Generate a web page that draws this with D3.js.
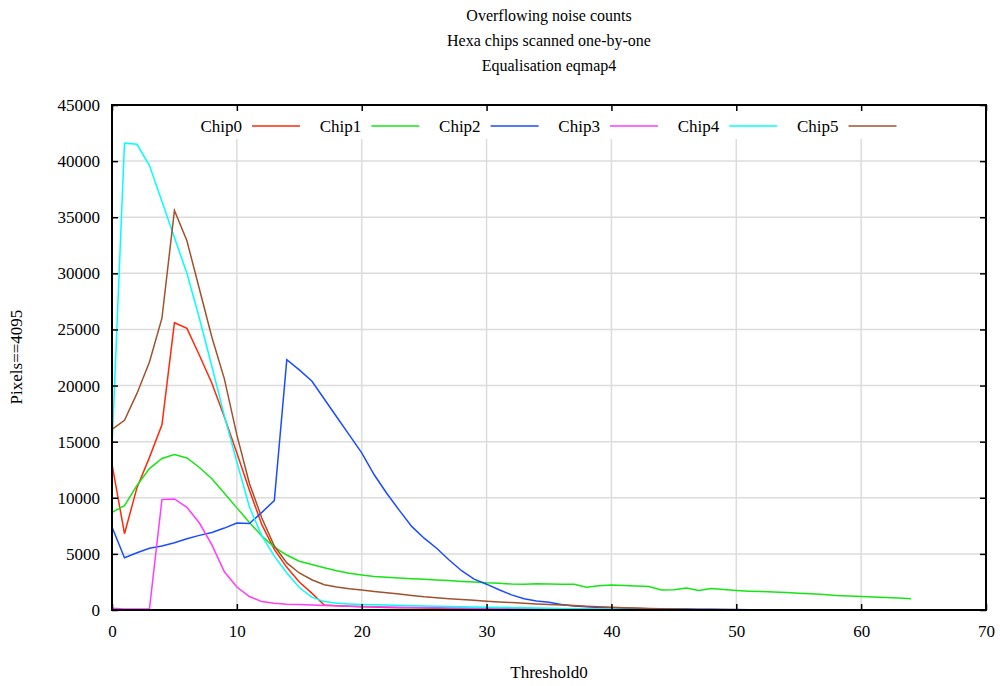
<!DOCTYPE html>
<html>
<head>
<meta charset="utf-8">
<script src="https://cdn.jsdelivr.net/npm/d3@7"></script>
<style>
  body { margin: 0; background: #fff; }
  svg text { font-family: "Liberation Serif", "Times New Roman", "DejaVu Serif", serif !important; fill: #000; }
  .grid line { stroke: #dcdcdc; stroke-width: 1.5; }
  .series { fill: none; stroke-width: 1.5; }
</style>
</head>
<body>
<div id="chart"></div>
<script>
// chart data
var titleLines = ["Overflowing noise counts", "Hexa chips scanned one-by-one", "Equalisation eqmap4"];
var chipNames = ["Chip0", "Chip1", "Chip2", "Chip3", "Chip4", "Chip5"];
var chipColors = ["#ff2a0a", "#14e614", "#1a4dff", "#ff3cff", "#00ffff", "#a0522d"];
var xTicks = [0, 10, 20, 30, 40, 50, 60, 70];
var yTicks = [0, 5000, 10000, 15000, 20000, 25000, 30000, 35000, 40000, 45000];

var thresholds = [0, 1, 2, 3, 4, 5, 6, 7, 8, 9, 10, 11, 12, 13, 14, 15, 16, 17, 18, 19,
    20, 21, 22, 23, 24, 25, 26, 27, 28, 29, 30, 31, 32, 33, 34, 35, 36, 37, 38, 39,
    40, 41, 42, 43, 44, 45, 46, 47, 48, 49, 50, 51, 52, 53, 54, 55, 56, 57, 58, 59,
    60, 61, 62, 63, 64];

var chip0 = [13000, 6800, 10900, 13600, 16500, 25600, 25100, 22700, 20200, 17200,
    14000, 10700, 7600, 5400, 3800, 2500, 1500, 450, 380, 330,
    290, 260, 230, 210, 190, 170, 150, 130, 115, 100,
    90, 80, 70, 60, 50, 45, 40, 35, 30, 25,
    20, 18, 15, 12, 10, 8, 7, 6, 5, 4,
    3, 2, 2, 1, 1, 1, 1, 1, 0, 0, 0, 0, 0, 0, 0];

var chip1 = [8700, 9300, 11100, 12600, 13500, 13850, 13550, 12700, 11700, 10400,
    9100, 7800, 6600, 5600, 4900, 4350, 4050, 3770, 3500, 3280,
    3120, 2980, 2920, 2860, 2790, 2740, 2680, 2620, 2550, 2490,
    2420, 2380, 2320, 2300, 2330, 2320, 2290, 2300, 2020, 2170,
    2230, 2180, 2140, 2100, 1780, 1800, 1950, 1740, 1920, 1820,
    1740, 1680, 1640, 1600, 1570, 1500, 1440, 1380, 1300, 1250,
    1200, 1150, 1120, 1070, 1000];

var chip2 = [7400, 4650, 5100, 5500, 5700, 6000, 6350, 6650, 6900, 7300,
    7750, 7700, 8700, 9750, 22300, 21400, 20400, 18800, 17200, 15600,
    14000, 12050, 10400, 8900, 7450, 6400, 5500, 4450, 3500, 2750,
    2300, 1800, 1350, 1000, 800, 700, 500, 350, 280, 230,
    190, 160, 140, 120, 100, 90, 80, 70, 60, 50,
    40, 30, 25, 20, 15, 12, 10, 8, 6, 5,
    4, 3, 2, 2, 1];

var chip3 = [150, 80, 80, 80, 9850, 9900, 9150, 7750, 5800, 3400,
    2050, 1200, 750, 600, 520, 480, 440, 400, 370, 340,
    310, 290, 270, 250, 230, 215, 200, 185, 170, 155,
    140, 125, 110, 100, 90, 80, 70, 60, 50, 45,
    40, 35, 30, 25, 20, 15, 12, 10, 8, 6,
    5, 4, 3, 3, 2, 2, 2, 1, 1, 1, 1, 0, 0, 0, 0];

var chip4 = [14500, 41600, 41500, 39600, 36400, 33200, 30000, 26000, 21700, 17300,
    13200, 9200, 6600, 4800, 3300, 2000, 1150, 750, 600, 540,
    500, 470, 440, 410, 380, 350, 330, 310, 290, 270,
    250, 230, 210, 190, 170, 150, 135, 120, 105, 90,
    80, 70, 60, 50, 45, 40, 32, 26, 20, 15,
    10, 8, 6, 5, 4, 3, 2, 2, 1, 1, 1, 0, 0, 0, 0];

var chip5 = [16100, 16900, 19300, 22100, 26000, 35600, 32900, 28600, 24300, 20600,
    15600, 11300, 8200, 5700, 4200, 3300, 2700, 2250, 2050, 1900,
    1780, 1650, 1530, 1420, 1300, 1180, 1100, 1010, 930, 860,
    790, 720, 660, 600, 540, 490, 440, 390, 340, 290,
    240, 200, 170, 140, 110, 90, 70, 55, 45, 35,
    25, 20, 15, 12, 10, 8, 6, 5, 4, 3, 2, 2, 1, 1, 0];

var chips = [chip0, chip1, chip2, chip3, chip4, chip5];

// create margins
var totalWidth = 1000, totalHeight = 686;
var margin = {top: 105, right: 14, bottom: 76, left: 112},
    width = totalWidth - margin.left - margin.right,
    height = totalHeight - margin.top - margin.bottom;

var x = d3.scaleLinear().domain([0, 70]).range([0, width]);
var y = d3.scaleLinear().domain([0, 45000]).range([height, 0]);

var serif = '"Liberation Serif", "Times New Roman", "DejaVu Serif", serif';

var root = d3.select("#chart").append("svg")
    .attr("width", totalWidth)
    .attr("height", totalHeight)
    .attr("font-family", serif);

// titles
root.selectAll("text.title")
    .data(titleLines).enter()
    .append("text")
    .attr("class", "title")
    .attr("x", margin.left + width / 2)
    .attr("y", (d, i) => 21 + 25 * i)
    .attr("text-anchor", "middle")
    .style("font-size", "16px")
    .text(d => d);

var svg = root.append("g")
    .attr("transform", `translate(${margin.left}, ${margin.top})`);

// grid lines
var grid = svg.append("g").attr("class", "grid");
grid.selectAll("line.v")
    .data(xTicks.slice(1, -1)).enter()
    .append("line")
    .attr("x1", d => x(d)).attr("x2", d => x(d))
    .attr("y1", 0).attr("y2", height);
grid.selectAll("line.h")
    .data(yTicks.slice(1, -1)).enter()
    .append("line")
    .attr("x1", 0).attr("x2", width)
    .attr("y1", d => y(d)).attr("y2", d => y(d));

// legend background hides the grid under the key
svg.append("rect")
    .attr("x", 80).attr("y", 1)
    .attr("width", 720).attr("height", 33)
    .attr("fill", "#fff");

// series lines
var line = d3.line()
    .x((d, i) => x(thresholds[i]))
    .y(d => y(d));

svg.selectAll("path.series")
    .data(chips).enter()
    .append("path")
    .attr("class", "series")
    .attr("stroke", (d, i) => chipColors[i])
    .attr("d", d => line(d));

// axes, ticks pointing inward on all four sides
var tickLen = 6;
var plain = d3.format("d");
svg.append("g")
    .attr("transform", `translate(0, ${height})`)
    .call(d3.axisBottom(x).tickValues(xTicks).tickFormat(plain).tickSizeInner(-tickLen).tickSizeOuter(0).tickPadding(15))
    .call(g => g.select(".domain").remove());
svg.append("g")
    .call(d3.axisTop(x).tickValues(xTicks).tickSizeInner(-tickLen).tickSizeOuter(0).tickFormat(""))
    .call(g => g.select(".domain").remove());
svg.append("g")
    .call(d3.axisLeft(y).tickValues(yTicks).tickFormat(plain).tickSizeInner(-tickLen).tickSizeOuter(0).tickPadding(12))
    .call(g => g.select(".domain").remove());
svg.append("g")
    .attr("transform", `translate(${width}, 0)`)
    .call(d3.axisRight(y).tickValues(yTicks).tickSizeInner(-tickLen).tickSizeOuter(0).tickFormat(""))
    .call(g => g.select(".domain").remove());

svg.selectAll("g").attr("font-family", serif);
svg.selectAll(".tick line").attr("stroke", "#000").attr("stroke-width", 1.5);
svg.selectAll(".tick text")
    .style("font-size", "17px")
    .attr("fill", "#000");

// frame
svg.append("rect")
    .attr("width", width).attr("height", height)
    .attr("fill", "none")
    .attr("stroke", "#000")
    .attr("stroke-width", 2);

// legend
var legend = svg.selectAll("g.legend")
    .data(chipNames).enter()
    .append("g")
    .attr("class", "legend")
    .attr("transform", (d, i) => `translate(${130 + 119.3 * i}, 21)`);

legend.append("text")
    .attr("x", 0).attr("y", 0)
    .attr("text-anchor", "end")
    .attr("dy", "0.33em")
    .style("font-size", "17px")
    .text(d => d);

legend.append("line")
    .attr("x1", 10).attr("x2", 58)
    .attr("y1", 0).attr("y2", 0)
    .attr("stroke", (d, i) => chipColors[i])
    .attr("stroke-width", 1.5);

// axis labels
root.append("text")
    .attr("x", margin.left + width / 2)
    .attr("y", 678)
    .attr("text-anchor", "middle")
    .style("font-size", "17px")
    .text("Threshold0");

root.append("text")
    .attr("transform", "rotate(-90)")
    .attr("x", -357)
    .attr("y", 22)
    .attr("text-anchor", "middle")
    .style("font-size", "17px")
    .text("Pixels==4095");
</script>
</body>
</html>
